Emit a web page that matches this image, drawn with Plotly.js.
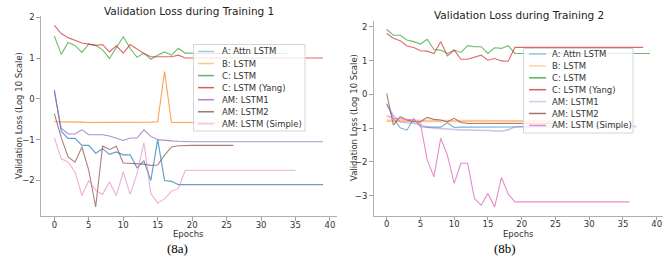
<!DOCTYPE html>
<html>
<head>
<meta charset="utf-8">
<script src="https://cdn.plot.ly/plotly-3.0.1.min.js"></script>
<style>html,body{margin:0;padding:0;background:#fff;}#chart{width:670px;height:259px;}</style>
</head>
<body>
<div id="chart"></div>
<script>
// ---- Data ----
const seriesNames = ["A: Attn LSTM", "B: LSTM", "C: LSTM", "C: LSTM (Yang)", "AM: LSTM1", "AM: LSTM2", "AM: LSTM (Simple)"];
const xTicks = [0, 5, 10, 15, 20, 25, 30, 35, 40];
const yTicks1 = [-2, -1, 0, 1, 2];
const yTicks2 = [-3, -2, -1, 0, 1, 2];
const title1 = "Validation Loss during Training 1";
const title2 = "Validation Loss during Training 2";
const xLabel = "Epochs";
const yLabel = "Validation Loss (Log 10 Scale)";
const captions = ["(8a)", "(8b)"];

// Training 1
const t1_attnLSTM = [0.22, -0.80, -0.97, -0.97, -1.14, -1.14, -1.33, -1.22, -1.36, -1.30, -1.37, -1.37, -1.69, -1.52, -2.00, -1.00, -2.00, -2.02, -2.10, -2.10,
  -2.10, -2.10, -2.10, -2.10, -2.10, -2.10, -2.10, -2.10, -2.10, -2.10, -2.10, -2.10, -2.10, -2.10, -2.10, -2.10, -2.10, -2.10, -2.10, -2.10];
const t1_bLSTM = [-0.56, -0.56, -0.57, -0.57, -0.57, -0.58, -0.58, -0.58, -0.58, -0.58, -0.58, -0.58, -0.57, -0.57, -0.57, -0.56, 0.67, -0.58, -0.58, -0.58,
  -0.58, -0.58, -0.58, -0.58, -0.58, -0.58];
const t1_cLSTM = [1.54, 1.09, 1.38, 1.31, 1.14, 1.34, 1.31, 1.20, 0.99, 1.25, 1.52, 1.24, 1.02, 1.12, 0.97, 1.07, 1.15, 1.07, 1.24, 1.12,
  1.11, 1.11, 1.11, 1.11, 1.11, 1.11, 1.11, 1.11, 1.11, 1.11, 1.11, 1.11, 1.11, 1.11, 1.11];
const t1_cYang = [1.80, 1.60, 1.50, 1.44, 1.37, 1.34, 1.31, 1.33, 1.15, 1.30, 1.12, 1.33, 1.22, 1.11, 1.03, 1.03, 1.02, 1.03, 1.07, 1.00,
  1.00, 1.00, 1.00, 1.00, 1.00, 1.00, 1.00, 1.00, 1.00, 1.00, 1.00, 1.00, 1.00, 1.00, 1.00, 1.00, 1.00, 1.00, 1.00, 1.00];
const t1_amLSTM1 = [0.18, -0.72, -0.86, -0.86, -0.76, -0.88, -0.88, -0.88, -0.91, -0.96, -1.02, -0.96, -0.96, -0.76, -0.92, -1.00, -1.02, -1.03, -1.04, -1.05,
  -1.05, -1.05, -1.05, -1.05, -1.05, -1.05, -1.05, -1.05, -1.05, -1.05, -1.05, -1.05, -1.05, -1.05, -1.05, -1.05, -1.05, -1.05, -1.05, -1.05];
const t1_amLSTM2 = [-0.36, -0.95, -1.42, -1.55, -1.18, -1.75, -2.65, -1.16, -1.24, -1.16, -1.57, -1.58, -1.58, -1.60, -1.63, -1.62, -1.38, -1.18, -1.15, -1.14,
  -1.14, -1.14, -1.14, -1.14, -1.14, -1.14, -1.14];
const t1_amSimple = [-0.95, -1.47, -1.55, -1.79, -2.37, -2.00, -2.24, -2.34, -2.04, -2.37, -1.79, -2.34, -1.83, -1.08, -2.32, -2.55, -2.45, -2.26, -2.20, -1.75,
  -1.75, -1.75, -1.75, -1.75, -1.75, -1.75, -1.75, -1.75, -1.75, -1.75, -1.75, -1.75, -1.75, -1.75, -1.75, -1.75];

// Training 2
const t2_attnLSTM = [-0.27, -0.71, -0.99, -1.06, -0.71, -0.96, -0.97, -0.97, -0.97, -0.84, -0.98, -0.97, -0.97, -0.96, -0.96, -0.97, -0.97, -0.97, -0.97, -0.96,
  -0.96, -0.96, -0.96, -0.96, -0.96, -0.96];
const t2_bLSTM = [-0.78, -0.78, -0.79, -0.79, -0.79, -0.79, -0.79, -0.79, -0.79, -0.79, -0.79, -0.80, -0.80, -0.80, -0.80, -0.80, -0.80, -0.80, -0.80, -0.80,
  -0.80, -0.80, -0.80, -0.80, -0.80, -0.80];
const t2_cLSTM = [1.92, 1.75, 1.75, 1.61, 1.56, 1.49, 1.63, 1.33, 1.31, 1.21, 1.31, 1.24, 1.44, 1.41, 1.41, 1.21, 1.38, 1.36, 1.44, 1.21,
  1.21, 1.21, 1.21, 1.21, 1.21, 1.21, 1.21, 1.21, 1.21, 1.21, 1.21, 1.21, 1.21, 1.21, 1.21, 1.21, 1.21, 1.21, 1.21, 1.21];
const t2_cYang = [1.80, 1.66, 1.59, 1.43, 1.39, 1.29, 1.28, 1.21, 1.56, 1.14, 1.31, 1.04, 1.04, 1.09, 1.16, 1.01, 1.06, 0.99, 0.98, 1.39,
  1.39, 1.39, 1.39, 1.39, 1.39, 1.39, 1.39, 1.39, 1.39, 1.39, 1.39, 1.39, 1.39, 1.39, 1.39, 1.39, 1.39, 1.39, 1.39];
const t2_amLSTM1 = [-0.30, -0.62, -0.82, -0.84, -0.85, -0.90, -0.97, -1.00, -1.02, -1.03, -1.04, -1.05, -1.05, -1.06, -1.06, -1.07, -1.08, -1.09, -1.05, -0.96,
  -0.95, -0.95, -0.95, -0.95, -0.95, -0.95, -0.95, -0.95, -0.95, -0.95, -0.95, -0.95, -0.95, -0.95, -0.95, -0.95, -0.95, -0.95];
const t2_amLSTM2 = [0.03, -0.91, -0.66, -0.76, -0.81, -0.81, -0.68, -0.74, -0.76, -0.81, -0.71, -0.83, -0.86, -0.86, -0.86, -0.86, -0.86, -0.86, -0.86, -0.86,
  -0.86, -0.86, -0.86, -0.86, -0.86, -0.86];
const t2_amSimple = [-0.63, -0.71, -0.72, -0.74, -0.76, -0.86, -1.94, -2.44, -1.30, -1.80, -2.63, -2.04, -2.04, -3.08, -3.28, -2.93, -3.33, -2.46, -2.95, -3.18,
  -3.18, -3.18, -3.18, -3.18, -3.18, -3.18, -3.18, -3.18, -3.18, -3.18, -3.18, -3.18, -3.18, -3.18, -3.18, -3.18, -3.18];

const training1 = [t1_attnLSTM, t1_bLSTM, t1_cLSTM, t1_cYang, t1_amLSTM1, t1_amLSTM2, t1_amSimple];
const training2 = [t2_attnLSTM, t2_bLSTM, t2_cLSTM, t2_cYang, t2_amLSTM1, t2_amLSTM2, t2_amSimple];

// ---- Styles ----
const colors = ["#1f77b4", "#ff7f0e", "#2ca02c", "#d62728", "#9467bd", "#8c564b", "#e377c2"];
const style1 = [{w:1.2,o:0.7},{w:1.1,o:0.75},{w:1.1,o:0.7},{w:1.1,o:0.7},{w:1.1,o:0.75},{w:1.1,o:0.75},{w:1.1,o:0.6}];
const style2 = [{w:1.1,o:0.6},{w:2.5,o:0.45},{w:1.1,o:0.7},{w:1.1,o:0.7},{w:1.6,o:0.4},{w:1.1,o:0.75},{w:1.1,o:0.85}];
const swatch1 = [0.4,0.45,0.75,0.75,0.8,0.8,0.4];
const swatch2 = [0.4,0.35,0.8,0.75,0.35,0.8,0.85];

const W = 670, H = 259;
const px = v => v / W, py = v => 1 - v / H;
const font = "DejaVu Sans, sans-serif";

const traces = [];
training1.forEach((vals, i) => {
  traces.push({x: vals.map((v, k) => k), y: vals, type: "scatter", mode: "lines", name: seriesNames[i],
    xaxis: "x", yaxis: "y", line: {color: colors[i], width: style1[i].w}, opacity: style1[i].o, showlegend: false, hoverinfo: "skip"});
});
training2.forEach((vals, i) => {
  traces.push({x: vals.map((v, k) => k), y: vals, type: "scatter", mode: "lines", name: seriesNames[i],
    xaxis: "x2", yaxis: "y2", line: {color: colors[i], width: style2[i].w}, opacity: style2[i].o, showlegend: false, hoverinfo: "skip"});
});

const axCommon = {showgrid: false, zeroline: false, showline: true, linecolor: "#b0b0b0", linewidth: 1,
  ticks: "outside", ticklen: 3.5, tickcolor: "#888", tickwidth: 0.8, tickfont: {family: font, size: 8.5, color: "#333"}, fixedrange: true};

const layout = {
  width: W, height: H, margin: {l: 0, r: 0, t: 0, b: 0}, paper_bgcolor: "#fff", plot_bgcolor: "rgba(0,0,0,0)", showlegend: false,
  xaxis: Object.assign({}, axCommon, {domain: [px(40.9), px(336.5)], range: [-1.95, 40.95], tickvals: xTicks, anchor: "y", ticklabelstandoff: -3}),
  yaxis: Object.assign({}, axCommon, {domain: [py(216), py(16)], range: [-2.87, 2.03], tickvals: yTicks1, anchor: "x"}),
  xaxis2: Object.assign({}, axCommon, {domain: [px(373.5), px(663.1)], range: [-1.95, 40.95], tickvals: xTicks, anchor: "y2", ticklabelstandoff: -3}),
  yaxis2: Object.assign({}, axCommon, {domain: [py(215.7), py(20.7)], range: [-3.59, 2.18], tickvals: yTicks2, anchor: "x2"}),
  shapes: [], annotations: []
};

function ann(text, x, y, size, opts) {
  layout.annotations.push(Object.assign({text: text, x: px(x), y: py(y), xref: "paper", yref: "paper", showarrow: false,
    xanchor: "center", yanchor: "middle", font: {family: font, size: size, color: "#222"}}, opts || {}));
}
ann(title1, 189, 11, 10.5);
ann(title2, 519, 15, 10.5);
ann(xLabel, 188, 234, 8.5, {font: {family: font, size: 8.5, color: "#333"}});
ann(xLabel, 518, 234, 8.5, {font: {family: font, size: 8.5, color: "#333"}});
ann(yLabel, 19, 116, 8.5, {textangle: -90, font: {family: font, size: 8.5, color: "#333"}});
ann(yLabel, 354, 118, 8.5, {textangle: -90, font: {family: font, size: 8.5, color: "#333"}});
ann(captions[0], 177, 248, 13, {font: {family: "Liberation Serif, Times New Roman, serif", size: 13, color: "#000"}});
ann(captions[1], 505, 248, 13, {font: {family: "Liberation Serif, Times New Roman, serif", size: 13, color: "#000"}});

function boxRect(x0, y0, x1, y1) {
  return {type: "rect", xref: "paper", yref: "paper", x0: px(x0), x1: px(x1), y0: py(y1), y1: py(y0),
    fillcolor: "rgba(255,255,255,0.8)", line: {color: "#d4d4d4", width: 1}, layer: "above"};
}
function legend(box, sx0, sx1, tx, rowY0, dy, swatch) {
  layout.shapes.push(boxRect(box[0], box[1], box[2], box[3]));
  seriesNames.forEach((name, i) => {
    const yy = rowY0 + i * dy;
    layout.shapes.push({type: "line", xref: "paper", yref: "paper", x0: px(sx0), x1: px(sx1), y0: py(yy), y1: py(yy),
      line: {color: colors[i], width: 1.5}, opacity: swatch[i], layer: "above"});
    ann(name, tx, yy, 8.5, {xanchor: "left", font: {family: font, size: 8.5, color: "#333"}});
  });
}
legend([193.5, 44.5, 305, 131], 198, 214, 220, 51.5, 12.05, swatch1);
legend([523.5, 48.5, 633, 133], 529, 546, 550, 54, 11.9, swatch2);

Plotly.newPlot("chart", traces, layout, {staticPlot: true, displayModeBar: false});
</script>
</body>
</html>
